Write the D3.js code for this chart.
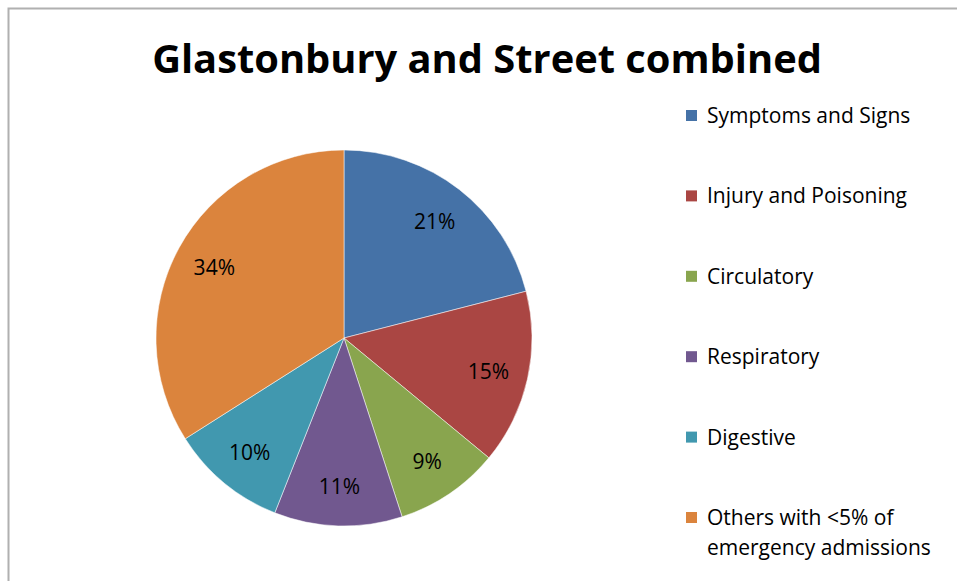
<!DOCTYPE html>
<html>
<head>
<meta charset="utf-8">
<script src="https://cdn.jsdelivr.net/npm/d3@7"></script>
<style>
  body { margin: 0; background: #fff; }
  text { font-family: "Open Sans", "Noto Sans", sans-serif; }
</style>
</head>
<body>
<div id="chart"></div>
<script>
const categories = ['Symptoms and Signs', 'Injury and Poisoning', 'Circulatory',
  'Respiratory', 'Digestive', 'Others with <5% of emergency admissions'];
const values = [21, 15, 9, 11, 10, 34];
const colours = ['#4572A7', '#AA4643', '#89A54E', '#71588F', '#4198AF', '#DB843D'];
const legendLines = [['Symptoms and Signs'], ['Injury and Poisoning'], ['Circulatory'],
  ['Respiratory'], ['Digestive'], ['Others with <5% of', 'emergency admissions']];

const W = 957, H = 581;
const cx = 344, cy = 338, R = 188;

const svg = d3.select('#chart').append('svg')
  .attr('width', W).attr('height', H);

// chart frame (only left & top visible in crop)
svg.append('rect')
  .attr('x', 8.5).attr('y', 8.5)
  .attr('width', W + 20).attr('height', H + 20)
  .attr('fill', 'none').attr('stroke', '#b0b0b0').attr('stroke-width', 2);

// title, sized to its width in the picture
const title = svg.append('text')
  .attr('x', 487).attr('y', 73)
  .attr('text-anchor', 'middle')
  .style('font-weight', 'bold')
  .style('font-size', '36px')
  .text('Glastonbury and Street combined');
const tw = title.node().getComputedTextLength();
title.style('font-size', (36 * 670 / tw) + 'px');

const pie = d3.pie().sort(null).value(d => d)(values);
const arc = d3.arc().innerRadius(0).outerRadius(R);
const labelArc = d3.arc().innerRadius(148).outerRadius(148);
const colour = d3.scaleOrdinal().domain(categories).range(colours);

const plot = svg.append('g').attr('transform', `translate(${cx},${cy})`);

plot.selectAll('.slice')
  .data(pie)
  .enter()
  .append('path')
  .attr('class', 'slice')
  .attr('d', arc)
  .attr('fill', (d, i) => colour(categories[i]))
  .attr('stroke', '#ffffff')
  .attr('stroke-opacity', 0.5)
  .attr('stroke-width', 1);

plot.selectAll('.lbl')
  .data(pie)
  .enter()
  .append('text')
  .attr('class', 'lbl')
  .attr('transform', d => `translate(${labelArc.centroid(d)})`)
  .attr('text-anchor', 'middle')
  .attr('dy', '0.4em')
  .style('font-size', '21px')
  .attr('fill', '#000')
  .text(d => d.value + '%');

// legend
const legend = svg.append('g');
const rows = legend.selectAll('.row')
  .data(legendLines)
  .enter()
  .append('g')
  .attr('class', 'row')
  .attr('transform', (d, i) => `translate(686,${116 + i * 80.4})`);

rows.append('rect')
  .attr('x', 0).attr('y', -6)
  .attr('width', 11).attr('height', 11)
  .attr('fill', (d, i) => colours[i]);

rows.append('text')
  .attr('x', 21)
  .attr('y', 7)
  .style('font-size', '21px')
  .attr('fill', '#000')
  .selectAll('tspan')
  .data(d => d)
  .enter()
  .append('tspan')
  .attr('x', 21)
  .attr('dy', (d, i) => i === 0 ? 0 : 30)
  .text(d => d);
</script>
</body>
</html>
